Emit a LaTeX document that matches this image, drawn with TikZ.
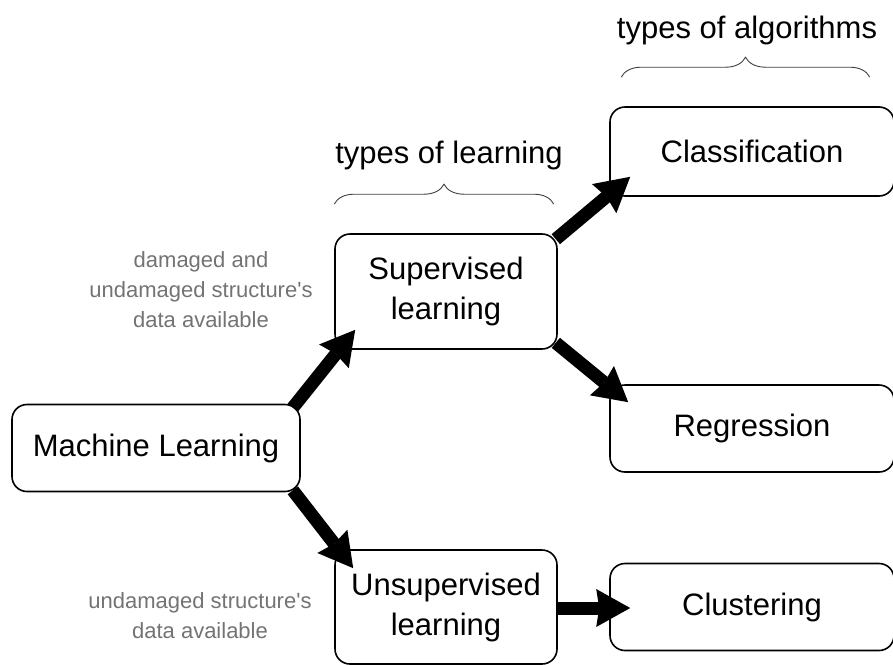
\documentclass[tikz,border=0pt]{standalone}
\usepackage{fontspec}
\setmainfont{Liberation Sans}
\usetikzlibrary{arrows.meta,decorations.pathreplacing}
\tikzset{
  box/.style={draw,line width=1.6pt,rounded corners=15pt,align=center,
    font=\fontsize{31}{40}\selectfont,inner sep=0pt},
  note/.style={align=center,text=black!55,font=\fontsize{22}{30}\selectfont},
  head/.style={font=\fontsize{31}{38}\selectfont},
  bigarrow/.style={line width=13pt,-{Stealth[inset=3pt,length=34pt,width=38pt,line width=0pt]}},
  curly/.style={decorate,decoration={brace,amplitude=20pt},line width=0.9pt,black!75}
}
\begin{document}
\begin{tikzpicture}[x=1pt,y=-1pt]
\useasboundingbox (0,0) rectangle (893,664);

% boxes
\node[box,minimum width=288pt,minimum height=87pt] (ml) at (156,448) {Machine Learning};
\node[box,minimum width=222pt,minimum height=115pt] (sup) at (446,291.5) {Supervised\\learning};
\node[box,minimum width=222pt,minimum height=114pt] (uns) at (446,607) {Unsupervised\\learning};
\node[box,minimum width=284pt,minimum height=89pt] (cls) at (752,151.5) {Classification};
\node[box,minimum width=284pt,minimum height=87pt] (reg) at (752,428.5) {Regression};
\node[box,minimum width=284pt,minimum height=87pt] (clu) at (752,607) {Clustering};

% notes
\node[note] (dmg) at (201,290) {damaged and\\undamaged structure\textquotesingle s\\data available};
\node[note] (udmg) at (200,616) {undamaged structure\textquotesingle s\\data available};

% headings and braces
\node[head] (tl) at (449,155) {types of learning};
\node[head] (ta) at (747,30) {types of algorithms};
\draw[curly] ([shift={(0,-29)}]sup.north west) -- ([shift={(-4,-29)}]sup.north east);
\draw[curly] ([shift={(12,-29)}]cls.north west) -- ([shift={(-25,-29)}]cls.north east);

% arrows
\draw[bigarrow] ([shift={(-8,4)}]ml.north east) -- ([shift={(21,-20)}]sup.south west);
\draw[bigarrow] ([shift={(-8,-2)}]ml.south east) -- ([shift={(19,19)}]uns.north west);
\draw[bigarrow] ([shift={(-2,6)}]sup.north east) -- ([shift={(21,-20)}]cls.south west);
\draw[bigarrow] ([shift={(-2,-7)}]sup.south east) -- ([shift={(19,18)}]reg.north west);
\draw[bigarrow] ([shift={(0,1)}]uns.east) -- ([shift={(21,1)}]clu.west);
\end{tikzpicture}
\end{document}
